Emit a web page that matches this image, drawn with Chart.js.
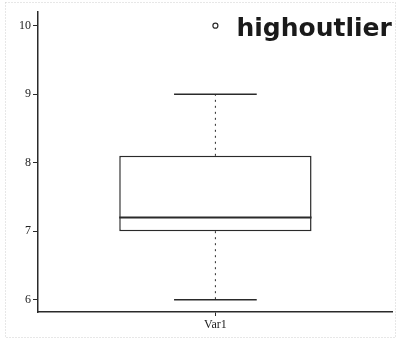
<!DOCTYPE html>
<html>
<head>
<meta charset="utf-8">
<script src="https://cdn.jsdelivr.net/npm/chart.js@4/dist/chart.umd.min.js"></script>
<style>
  html, body { margin: 0; padding: 0; background: #fff; }
  #wrap { width: 398px; height: 341px; }
</style>
</head>
<body>
<div id="wrap"><canvas id="c" width="398" height="341"></canvas></div>
<script>
// box plot numbers
var categories = ['Var1'];
var lowerWhisker = [6];
var q1 = [7];
var median = [7.2];
var q3 = [8.1];
var upperWhisker = [9];
var outliers = [10];
var yTicks = [6, 7, 8, 9, 10];

var ink = '#2a2a2a';

// whiskers, caps and median line, drawn on top of the bar (box)
var boxExtras = {
  id: 'boxExtras',
  afterDatasetsDraw: function(chart) {
    var ctx = chart.ctx;
    var y = chart.scales.y;
    var meta = chart.getDatasetMeta(0);
    meta.data.forEach(function(bar, i) {
      var half = bar.width / 2;
      var cap = bar.width * 0.215;
      ctx.save();
      ctx.strokeStyle = ink;
      // median
      ctx.lineWidth = 2;
      ctx.beginPath();
      ctx.moveTo(bar.x - half, y.getPixelForValue(median[i]));
      ctx.lineTo(bar.x + half, y.getPixelForValue(median[i]));
      ctx.stroke();
      // dotted whiskers
      ctx.lineWidth = 1;
      ctx.setLineDash([2, 4]);
      ctx.beginPath();
      ctx.moveTo(bar.x, y.getPixelForValue(q3[i]));
      ctx.lineTo(bar.x, y.getPixelForValue(upperWhisker[i]));
      ctx.moveTo(bar.x, y.getPixelForValue(q1[i]));
      ctx.lineTo(bar.x, y.getPixelForValue(lowerWhisker[i]));
      ctx.stroke();
      // caps
      ctx.setLineDash([]);
      ctx.lineWidth = 1.5;
      ctx.beginPath();
      ctx.moveTo(bar.x - cap, y.getPixelForValue(upperWhisker[i]));
      ctx.lineTo(bar.x + cap, y.getPixelForValue(upperWhisker[i]));
      ctx.moveTo(bar.x - cap, y.getPixelForValue(lowerWhisker[i]));
      ctx.lineTo(bar.x + cap, y.getPixelForValue(lowerWhisker[i]));
      ctx.stroke();
      ctx.restore();
    });
  },
  afterDraw: function(chart) {
    var ctx = chart.ctx;
    ctx.save();
    // faint frame of the scanned page
    ctx.strokeStyle = '#cfcfcf';
    ctx.setLineDash([1, 2]);
    ctx.lineWidth = 1;
    ctx.strokeRect(5.5, 2.5, 390, 335);
    ctx.setLineDash([]);
    // the handwritten note
    var pt = chart.getDatasetMeta(1).data[0];
    ctx.fillStyle = '#1a1a1a';
    ctx.font = 'bold 25px "DejaVu Sans"';
    ctx.textBaseline = 'alphabetic';
    ctx.fillText('highoutlier', pt.x + 21, pt.y + 10, 156);
    ctx.restore();
  }
};

new Chart(document.getElementById('c'), {
  type: 'bar',
  data: {
    labels: categories,
    datasets: [{
      label: 'box',
      data: q1.map(function(v, i) { return [v, q3[i]]; }),
      backgroundColor: '#fff',
      borderColor: ink,
      borderWidth: 1.5,
      borderSkipped: false,
      barPercentage: 0.542,
      categoryPercentage: 1
    }, {
      type: 'line',
      label: 'outliers',
      data: outliers,
      showLine: false,
      pointStyle: 'circle',
      pointRadius: 2.5,
      pointBorderWidth: 1.2,
      pointBorderColor: ink,
      pointBackgroundColor: '#fff'
    }]
  },
  options: {
    responsive: false,
    animation: false,
    layout: { padding: { top: 12, right: 4, left: 0, bottom: 0 } },
    plugins: { legend: { display: false }, tooltip: { enabled: false } },
    scales: {
      x: {
        grid: { display: true, offset: false, drawOnChartArea: false, drawTicks: true, tickLength: 4, color: ink },
        border: { display: true, color: ink, width: 1.5 },
        ticks: { color: '#222', font: { family: '"Liberation Serif"', size: 12 }, padding: 2 },
        afterFit: function(s) { s.height = 29; }
      },
      y: {
        min: 5.82,
        max: 10.2,
        grid: { display: true, drawOnChartArea: false, drawTicks: true, tickLength: 5, color: ink },
        border: { display: true, color: ink, width: 1.5 },
        ticks: { color: '#222', font: { family: '"Liberation Serif"', size: 12 }, padding: 2 },
        afterBuildTicks: function(s) { s.ticks = yTicks.map(function(v) { return { value: v }; }); },
        afterFit: function(s) { s.width = 38; }
      }
    }
  },
  plugins: [boxExtras]
});
</script>
</body>
</html>
